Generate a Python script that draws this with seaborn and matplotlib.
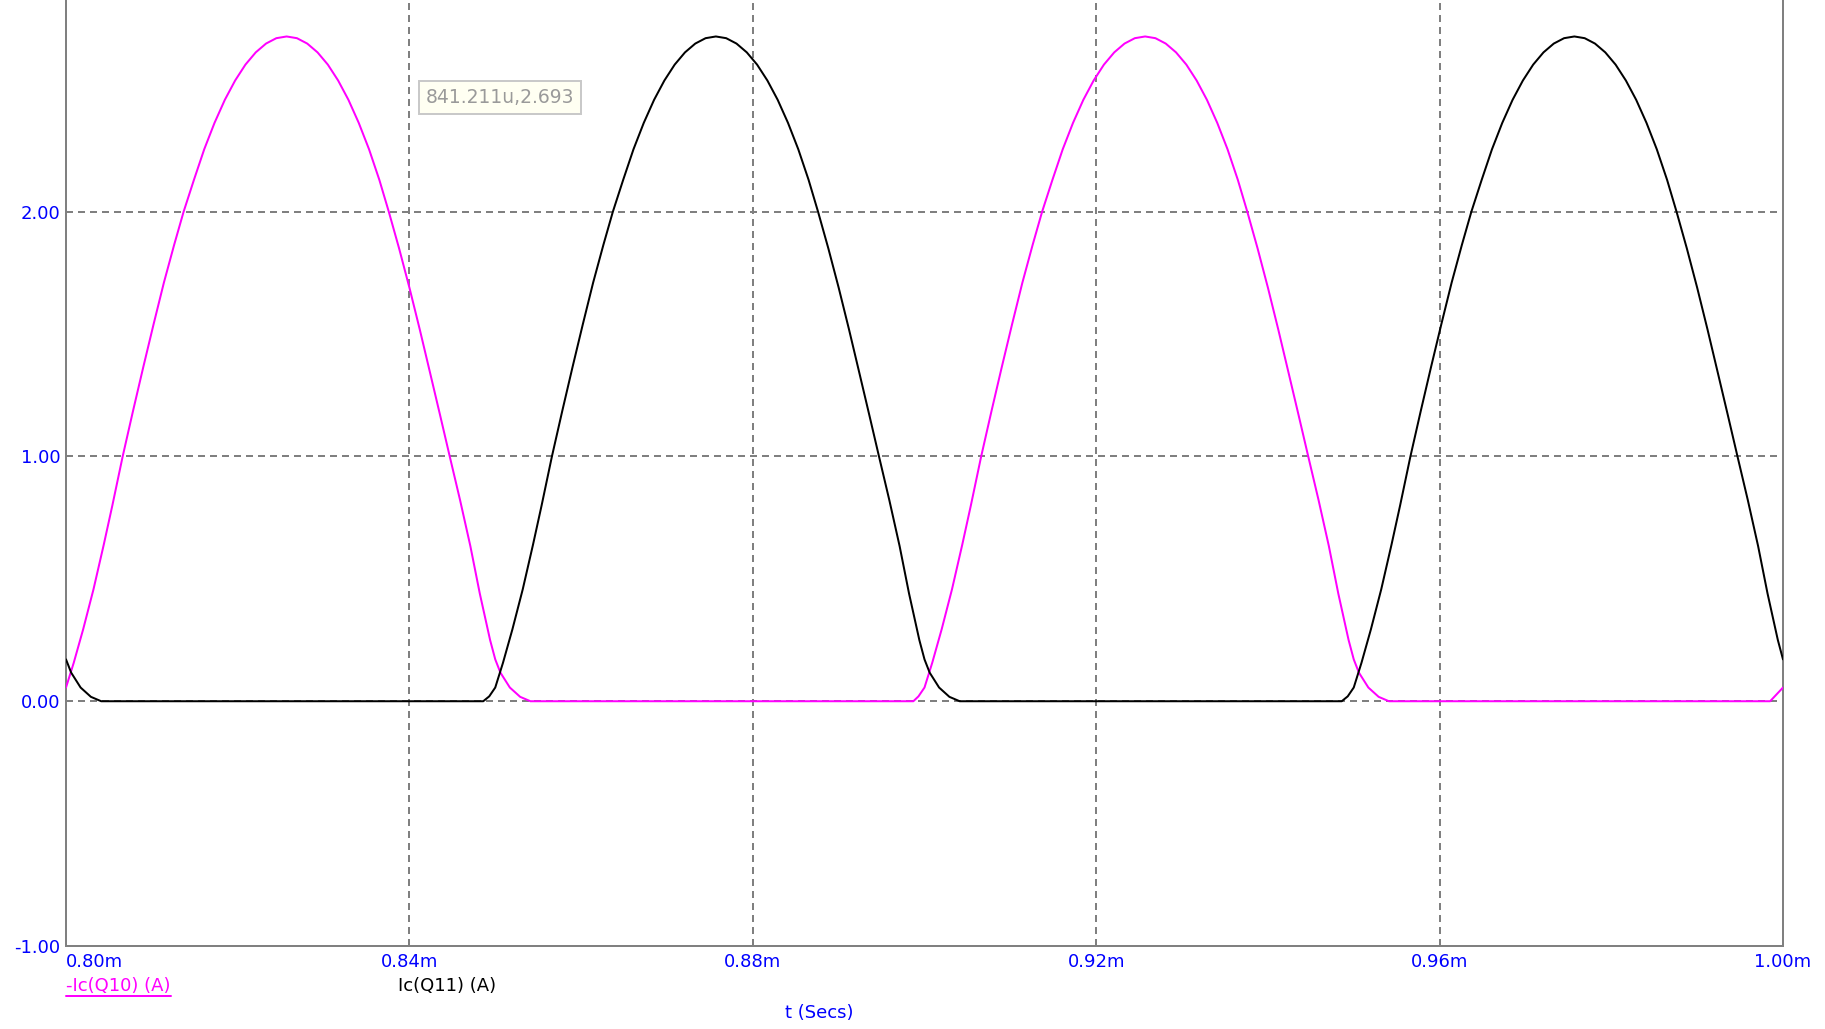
import numpy as np
import pandas as pd
import matplotlib.pyplot as plt
import seaborn as sns
from matplotlib.lines import Line2D

# values, time in ms, current in A
# one conduction pulse (both transistors show the same shape)
pulse_i = [0.056, 0.157, 0.294, 0.457, 0.640, 0.800, 1.000, 1.185, 1.365, 1.540,
           1.710, 1.865, 2.000, 2.130, 2.255, 2.363, 2.457, 2.536, 2.601, 2.651,
           2.687, 2.709, 2.716, 2.709, 2.687, 2.651, 2.601, 2.536, 2.457, 2.363,
           2.255, 2.130, 2.000, 1.850, 1.690, 1.520, 1.343, 1.165, 1.000, 0.822,
           0.634, 0.440, 0.250, 0.171, 0.117, 0.056, 0.018, 0.000]

# -Ic(Q10)
t_q10 = [0.8000, 0.8009, 0.8020, 0.8032, 0.8044, 0.8054, 0.8066, 0.8078, 0.8090, 0.8102,
         0.8114, 0.8126, 0.8137, 0.8149, 0.8161, 0.8173, 0.8185, 0.8197, 0.8209, 0.8221,
         0.8233, 0.8245, 0.8257, 0.8269, 0.8281, 0.8293, 0.8305, 0.8317, 0.8329, 0.8341,
         0.8353, 0.8365, 0.8376, 0.8388, 0.8400, 0.8412, 0.8424, 0.8436, 0.8447, 0.8459,
         0.8471, 0.8482, 0.8494, 0.8500, 0.8506, 0.8517, 0.8529, 0.8541,
         0.8987, 0.8993,
         0.9000, 0.9009, 0.9020, 0.9032, 0.9044, 0.9054, 0.9066, 0.9078, 0.9090, 0.9102,
         0.9114, 0.9126, 0.9137, 0.9149, 0.9161, 0.9173, 0.9185, 0.9197, 0.9209, 0.9221,
         0.9233, 0.9245, 0.9257, 0.9269, 0.9281, 0.9293, 0.9305, 0.9317, 0.9329, 0.9341,
         0.9353, 0.9365, 0.9376, 0.9388, 0.9400, 0.9412, 0.9424, 0.9436, 0.9447, 0.9459,
         0.9471, 0.9482, 0.9494, 0.9500, 0.9506, 0.9517, 0.9529, 0.9541,
         0.9985, 1.0000]
i_q10 = pulse_i + [0.000, 0.020] + pulse_i + [0.000, 0.056]

# Ic(Q11)
t_q11 = [0.8000, 0.8006, 0.8017, 0.8029, 0.8041,
         0.8486, 0.8493,
         0.8500, 0.8509, 0.8520, 0.8532, 0.8544, 0.8554, 0.8566, 0.8578, 0.8590, 0.8602,
         0.8614, 0.8626, 0.8637, 0.8649, 0.8661, 0.8673, 0.8685, 0.8697, 0.8709, 0.8721,
         0.8733, 0.8745, 0.8757, 0.8769, 0.8781, 0.8793, 0.8805, 0.8817, 0.8829, 0.8841,
         0.8853, 0.8865, 0.8876, 0.8888, 0.8900, 0.8912, 0.8924, 0.8936, 0.8947, 0.8959,
         0.8971, 0.8982, 0.8994, 0.9000, 0.9006, 0.9017, 0.9029, 0.9041,
         0.9486, 0.9493,
         0.9500, 0.9509, 0.9520, 0.9532, 0.9544, 0.9554, 0.9566, 0.9578, 0.9590, 0.9602,
         0.9614, 0.9626, 0.9637, 0.9649, 0.9661, 0.9673, 0.9685, 0.9697, 0.9709, 0.9721,
         0.9733, 0.9745, 0.9757, 0.9769, 0.9781, 0.9793, 0.9805, 0.9817, 0.9829, 0.9841,
         0.9853, 0.9865, 0.9876, 0.9888, 0.9900, 0.9912, 0.9924, 0.9936, 0.9947, 0.9959,
         0.9971, 0.9982, 0.9994, 1.0000]
i_q11 = ([0.171, 0.117, 0.056, 0.018, 0.000] + [0.000, 0.020] + pulse_i
         + [0.000, 0.020] + pulse_i[:43] + [0.171])

x_ticks = [0.80, 0.84, 0.88, 0.92, 0.96, 1.00]
x_tick_labels = ["0.80m", "0.84m", "0.88m", "0.92m", "0.96m", "1.00m"]
y_ticks = [-1.0, 0.0, 1.0, 2.0]
y_tick_labels = ["-1.00", "0.00", "1.00", "2.00"]

sns.set_style("white")
plt.rcParams['font.family'] = ['DejaVu Sans']

W, H = 1825, 1029
fig = plt.figure(figsize=(W / 100, H / 100), dpi=100)
ax = fig.add_axes([66 / W, (H - 946) / H, (1783 - 66) / W, 946 / H])

df_q10 = pd.DataFrame({'t': t_q10, 'i': i_q10})
df_q11 = pd.DataFrame({'t': t_q11, 'i': i_q11})
sns.lineplot(data=df_q10, x='t', y='i', color='#ff00ff', linewidth=1.44,
             estimator=None, sort=False, ax=ax, zorder=3)
sns.lineplot(data=df_q11, x='t', y='i', color='black', linewidth=1.44,
             estimator=None, sort=False, ax=ax, zorder=3)

ax.set_xlim(0.80, 1.00)
ax.set_ylim(-1.0, 2.865)
ax.set_xticks(x_ticks)
ax.set_xticklabels(x_tick_labels)
ax.set_yticks(y_ticks)
ax.set_yticklabels(y_tick_labels)
ax.get_xticklabels()[0].set_ha('left')
ax.set_xlabel('')
ax.set_ylabel('')

ax.grid(True, color='#808080', linestyle=(0, (3.5, 2.5)), linewidth=1.44)
ax.set_axisbelow(True)
ax.tick_params(length=0, labelsize=13, labelcolor='#0000ff')
ax.tick_params(axis='y', pad=4)
ax.tick_params(axis='x', pad=5)

for side in ['left', 'right', 'bottom']:
    ax.spines[side].set_color('#808080')
    ax.spines[side].set_linewidth(1.44)
ax.spines['top'].set_visible(False)

# trace names and axis title under the plot
lab1 = fig.text(66 / W, 1 - 986 / H, '-Ic(Q10) (A)', color='#ff00ff',
                fontsize=13, ha='left', va='center')
fig.text(398 / W, 1 - 986 / H, 'Ic(Q11) (A)', color='black',
         fontsize=13, ha='left', va='center')
fig.text(819 / W, 1 - 1013 / H, 't (Secs)', color='#0000ff',
         fontsize=13, ha='center', va='center')

# cursor readout box
fig.text(426 / W, 1 - 97.5 / H, '841.211u,2.693', color='#9a9a9a', fontsize=13.5,
         ha='left', va='center',
         bbox=dict(boxstyle='square,pad=0.35', fc='#fffff2', ec='#c8c8c8', lw=1.4))

fig.canvas.draw()
bb = lab1.get_window_extent()
y_line = (bb.y0 - 1) / H
fig.add_artist(Line2D([bb.x0 / W, bb.x1 / W], [y_line, y_line],
                      transform=fig.transFigure, color='#ff00ff', linewidth=1.44))

plt.savefig('out.png', dpi=100)
